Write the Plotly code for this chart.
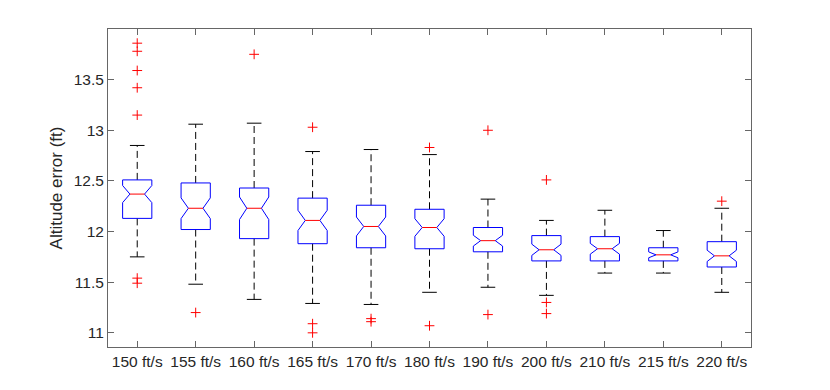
import plotly.graph_objs as go

# box statistics (ft)
labels = ['150 ft/s', '155 ft/s', '160 ft/s', '165 ft/s', '170 ft/s', '180 ft/s',
          '190 ft/s', '200 ft/s', '210 ft/s', '215 ft/s', '220 ft/s']
lower_whisker = [11.75, 11.48, 11.33, 11.29, 11.28, 11.40, 11.45, 11.37, 11.59, 11.59, 11.40]
q1 = [12.13, 12.02, 11.93, 11.88, 11.84, 11.83, 11.80, 11.71, 11.71, 11.71, 11.65]
median = [12.37, 12.23, 12.23, 12.11, 12.05, 12.04, 11.91, 11.82, 11.83, 11.77, 11.76]
q3 = [12.51, 12.48, 12.43, 12.33, 12.26, 12.22, 12.04, 11.96, 11.95, 11.84, 11.90]
upper_whisker = [12.85, 13.06, 13.07, 12.79, 12.81, 12.76, 12.32, 12.11, 12.21, 12.01, 12.23]
outliers = [
    [13.86, 13.78, 13.59, 13.42, 13.15, 11.54, 11.49],
    [11.20],
    [13.75],
    [13.03, 11.09, 11.00],
    [11.14, 11.11],
    [12.83, 11.07],
    [13.00, 11.18],
    [12.51, 11.30, 11.19],
    [],
    [],
    [12.30],
]
n_samples = 50

half = 0.25      # half box width in category units
cap = 0.125      # half width of whisker caps

wx, wy, cx, cy, bx, by, mx, my, ox, oy = [], [], [], [], [], [], [], [], [], []
for i in range(len(labels)):
    x = i + 1
    iqr = q3[i] - q1[i]
    nh = 1.57 * iqr / n_samples ** 0.5
    lo = max(median[i] - nh, q1[i])
    hi = min(median[i] + nh, q3[i])
    # dashed whiskers
    wx += [x, x, None, x, x, None]
    wy += [q3[i], upper_whisker[i], None, q1[i], lower_whisker[i], None]
    # caps
    cx += [x - cap, x + cap, None, x - cap, x + cap, None]
    cy += [upper_whisker[i], upper_whisker[i], None, lower_whisker[i], lower_whisker[i], None]
    # notched box
    bx += [x - half, x - half, x - half / 2, x - half, x - half, x + half, x + half,
           x + half / 2, x + half, x + half, x - half, None]
    by += [q1[i], lo, median[i], hi, q3[i], q3[i], hi, median[i], lo, q1[i], q1[i], None]
    mx += [x - half / 2, x + half / 2, None]
    my += [median[i], median[i], None]
    for v in outliers[i]:
        ox.append(x)
        oy.append(v)

whisker_trace = go.Scatter(x=wx, y=wy, mode='lines', hoverinfo='none',
                           line=dict(color='black', width=1, dash='7px,4px'))
cap_trace = go.Scatter(x=cx, y=cy, mode='lines', hoverinfo='none',
                       line=dict(color='black', width=1))
box_trace = go.Scatter(x=bx, y=by, mode='lines', hoverinfo='none',
                       line=dict(color='#0000FF', width=1))
median_trace = go.Scatter(x=mx, y=my, mode='lines', hoverinfo='none',
                          line=dict(color='#FF0000', width=1))
outlier_trace = go.Scatter(x=ox, y=oy, mode='markers', hoverinfo='y',
                           marker=dict(symbol='cross-thin-open', size=7, color='#FF0000',
                                       line=dict(color='#FF0000', width=1)))

axis_style = dict(showline=True, mirror='ticks', linecolor='#666', linewidth=1,
                  ticks='inside', ticklen=6, tickcolor='#666', showgrid=False,
                  zeroline=False, automargin=False,
                  tickfont=dict(family='Liberation Sans', size=15.5, color='#262626'))

# page body adds an 8px offset, margins compensate for it
fig = go.Figure(data=[whisker_trace, cap_trace, box_trace, median_trace, outlier_trace],
                layout=go.Layout(
                    width=830, height=390,
                    showlegend=False,
                    plot_bgcolor='white', paper_bgcolor='white',
                    margin=dict(l=100, r=87, t=21, b=51),
                    xaxis=dict(range=[0.5, 11.5], tickvals=list(range(1, len(labels) + 1)),
                               ticktext=labels, **axis_style),
                    yaxis=dict(range=[10.86, 14.0], tickvals=[11, 11.5, 12, 12.5, 13, 13.5],
                               ticktext=['11', '11.5', '12', '12.5', '13', '13.5'],
                               title=dict(text='Altitude error (ft)', standoff=6,
                                          font=dict(family='Liberation Sans', size=17, color='#262626')),
                               **axis_style)))

fig.write_html("out.html")
